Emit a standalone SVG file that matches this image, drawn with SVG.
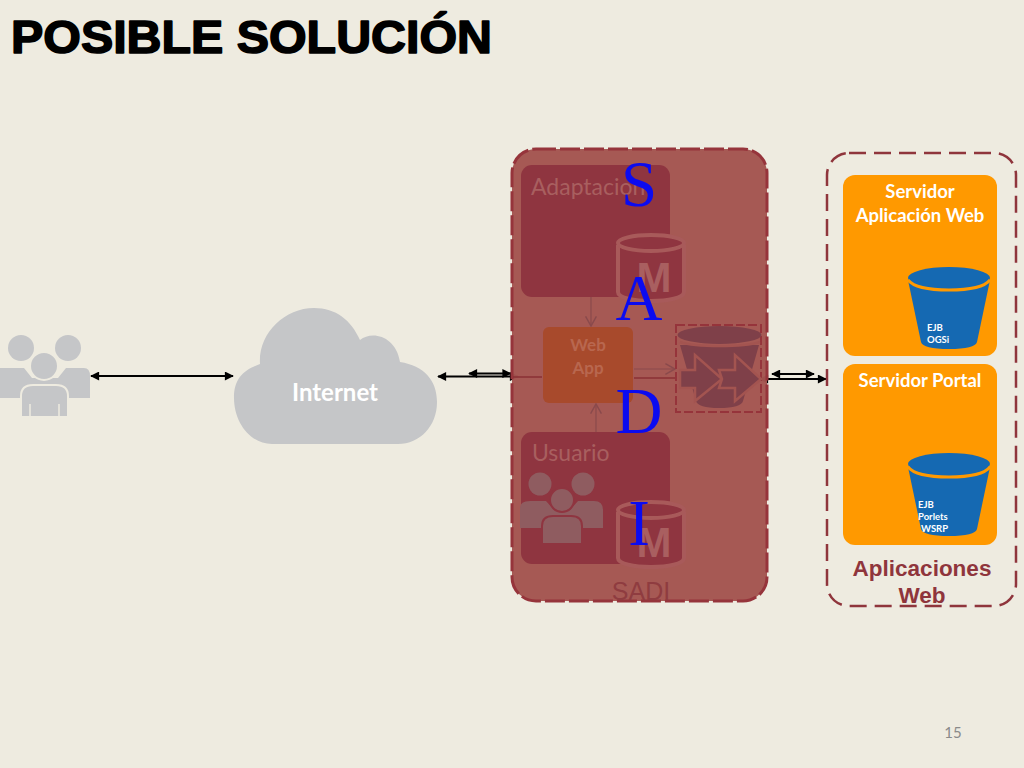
<svg xmlns="http://www.w3.org/2000/svg" width="1024" height="768" viewBox="0 0 1024 768">
<defs>
<marker id="ah" viewBox="0 0 10 10" refX="9" refY="5" markerWidth="11" markerHeight="9" orient="auto-start-reverse" markerUnits="userSpaceOnUse"><path d="M0 0L10 5L0 10Z" fill="#000"/></marker>
<marker id="oa" viewBox="0 0 10 10" refX="9" refY="5" markerWidth="12" markerHeight="14" orient="auto" markerUnits="userSpaceOnUse"><path d="M1 0.5L9 5L1 9.5" fill="none" stroke="#8a4a4c" stroke-width="1.2"/></marker>
</defs>
<style>
.cal{font-family:Lato,"Open Sans",sans-serif;font-weight:700}
.w{fill:#fff;text-anchor:middle}
.blue{font-family:"Liberation Serif",serif;fill:#0b0bf0;font-size:65px;text-anchor:middle}
.b{fill:#1569b2}
.rim{fill:none;stroke:#ff9900;stroke-width:3}
.ser{fill:#ff9900}
.lbl{font-family:Lato,"Open Sans",sans-serif;fill:#a85f5f;font-size:23px}
.cyl{fill:#8f3540;stroke:#a85a5a;stroke-width:4}
.m{font-family:"Liberation Sans",sans-serif;font-weight:700;font-size:42px;fill:#a95f60;text-anchor:middle}
.con{stroke:#000;stroke-width:2;fill:none;marker-start:url(#ah);marker-end:url(#ah)}
.thin{stroke:#8a4a4c;stroke-width:1.2;fill:none;marker-end:url(#oa)}
.ap{font-family:"Liberation Sans",sans-serif;font-weight:700;font-size:22.500px;fill:#8f353c;text-anchor:middle}
.bk{fill:#7f4049;stroke:#a35450;stroke-width:2.500}
</style>
<rect width="1024" height="768" fill="#eeebe0"/>
<text id="title" x="11" y="53" font-family="Liberation Sans,sans-serif" font-weight="700" font-size="47" fill="#000" stroke="#000" stroke-width="1.6" stroke-linejoin="round" textLength="481" lengthAdjust="spacingAndGlyphs">POSIBLE SOLUCIÓN</text>

<g id="users" fill="#c5c6c8">
<circle cx="21" cy="348" r="13"/><circle cx="68" cy="348" r="13"/>
<path d="M0 368H24L32 378H58L66 368H84Q90 368 90 376V398H60V389H30V398H0Z"/>
<circle cx="44" cy="366" r="14" stroke="#eeebe0" stroke-width="2"/>
<path d="M21 417V396Q21 385 33 385H56Q68 385 68 396V417Z" stroke="#eeebe0" stroke-width="2"/>
<path d="M30 404V417M59 404V417" stroke="#eeebe0" stroke-width="1.500"/>
</g>

<g id="internet">
<path d="M234 398C234 378 244 370 260 364C258 334 284 308 314 308C336 308 351 320 360 340C372 330 396 336 400 362C424 366 437 380 437 402C437 426 420 444 398 444H272C250 444 234 422 234 398Z" fill="#c5c6c8"/>
<text x="335" y="401" class="cal" font-size="24" fill="#fff" text-anchor="middle">Internet</text>
</g>

<g id="connectors">
<path class="con" d="M91 376H233"/>
<path class="con" d="M438 376.500H518"/>
<path class="con" d="M469 373.500H510.500"/>
<path class="con" d="M760 379H826"/>
<path class="con" d="M772 374H814"/>
</g>

<g id="sadi">
<rect x="512" y="149" width="255" height="452" rx="24" fill="#a35450" fill-opacity=".97" stroke="#96343b" stroke-width="3" stroke-dasharray="20 4"/>
<path d="M513 377H542M634 378H676" stroke="#8a3034" stroke-width="1.500" fill="none"/>
<path class="thin" d="M634 369H675"/>
<path class="thin" d="M591 291V326"/>
<path class="thin" d="M596 432V404"/>
<text x="641" y="600" font-family="Liberation Sans,sans-serif" font-size="25" fill="#8f3c40" text-anchor="middle">SADI</text>
</g>

<g id="adaptacion">
<rect x="521" y="165" width="149" height="132" rx="11" fill="#8f3540"/>
<text x="531" y="195" class="lbl">Adaptacion</text>
<path class="cyl" d="M618 245V292C618 304 684 304 684 292V245"/>
<ellipse class="cyl" cx="651" cy="243" rx="33" ry="8"/>
<text x="654" y="292" class="m">M</text>
</g>

<g id="webapp">
<rect x="543" y="327" width="90" height="76" rx="6" fill="#a84a2c"/>
<text x="588" y="351" class="cal" font-size="17" fill="#b8674f" text-anchor="middle">Web</text>
<text x="588" y="374" class="cal" font-size="17" fill="#b8674f" text-anchor="middle">App</text>
</g>

<g id="balancer">
<rect x="676" y="325" width="85" height="87" fill="none" stroke="#96343b" stroke-width="2" stroke-dasharray="9 3"/>
<path d="M680 345L696 401Q698 408 719 408Q741 408 743 401L759 345Z" fill="#7f4049"/>
<ellipse cx="719.500" cy="335" rx="42" ry="9" fill="#7f4049"/>
<path d="M680 342Q692 346 719.500 346Q747 346 760 342" fill="none" stroke="#a35450" stroke-width="2.500"/>
<path class="bk" d="M680 370H695V355L722 379L695 401V388H680Z"/>
<path class="bk" d="M719 370H735V355L761 379L735 401V388H719L722 379Z"/>
</g>

<g id="usuario">
<rect x="521" y="432" width="149" height="132" rx="11" fill="#8f3540"/>
<text x="532" y="461" class="lbl">Usuario</text>
<g fill="#8f5c60">
<circle cx="540" cy="484" r="11.500"/><circle cx="583" cy="484" r="11.500"/>
<path d="M520 528V508Q520 501 530 501H546L554 510H570L578 501H594Q603 501 603 510V528H578V519H545V528Z"/>
<circle cx="562" cy="500" r="12" stroke="#8f3540" stroke-width="2"/>
<path d="M542 544V526Q542 516 553 516H571Q582 516 582 526V544Z" stroke="#8f3540" stroke-width="2"/>
</g>
<path class="cyl" d="M618 512V558C618 570 684 570 684 558V512"/>
<ellipse class="cyl" cx="651" cy="510" rx="33" ry="8"/>
<text x="654" y="557" class="m">M</text>
</g>

<g id="sadi-letters">
<text x="639" y="206" class="blue">S</text>
<text x="639" y="320" class="blue">A</text>
<text x="639" y="433" class="blue">D</text>
<text x="639" y="545" class="blue">I</text>
</g>

<g id="aplicaciones">
<rect x="827" y="153" width="189" height="453" rx="22" fill="none" stroke="#8f353c" stroke-width="2.500" stroke-dasharray="17 8"/>
<text x="922" y="576" class="ap">Aplicaciones</text>
<text x="922" y="603" class="ap">Web</text>
</g>

<g id="servidor-web">
<rect class="ser" x="843" y="175" width="154" height="181" rx="12"/>
<text x="920" y="198" class="cal w" font-size="18.500">Servidor</text>
<text x="920" y="222" class="cal w" font-size="18.500">Aplicación Web</text>
<path class="b" d="M908 280L921 342Q923 349 949 349Q975 349 977 342L990 280Z"/>
<ellipse class="b" cx="949" cy="278" rx="41" ry="11"/>
<path class="rim" d="M908 280Q916 290 949 290Q982 290 990 280"/>
<text x="927" y="331" class="cal" font-size="9.500" fill="#fff">EJB</text>
<text x="927" y="343" class="cal" font-size="9.500" fill="#fff">OGSi</text>
</g>

<g id="servidor-portal">
<rect class="ser" x="843" y="364" width="154" height="181" rx="12"/>
<text x="920" y="387" class="cal w" font-size="18.500">Servidor Portal</text>
<path class="b" d="M908 467L921 529Q923 536 949 536Q975 536 977 529L990 467Z"/>
<ellipse class="b" cx="949" cy="464" rx="41" ry="11"/>
<path class="rim" d="M908 467Q916 477 949 477Q982 477 990 467"/>
<text x="918" y="508" class="cal" font-size="9.500" fill="#fff">EJB</text>
<text x="918" y="520" class="cal" font-size="9.500" fill="#fff">Porlets</text>
<text x="921" y="532" class="cal" font-size="9.500" fill="#fff">WSRP</text>
</g>

<text id="page" x="953" y="738" font-family="Lato,sans-serif" font-size="15" fill="#8a8a8a" text-anchor="middle">15</text>
</svg>
